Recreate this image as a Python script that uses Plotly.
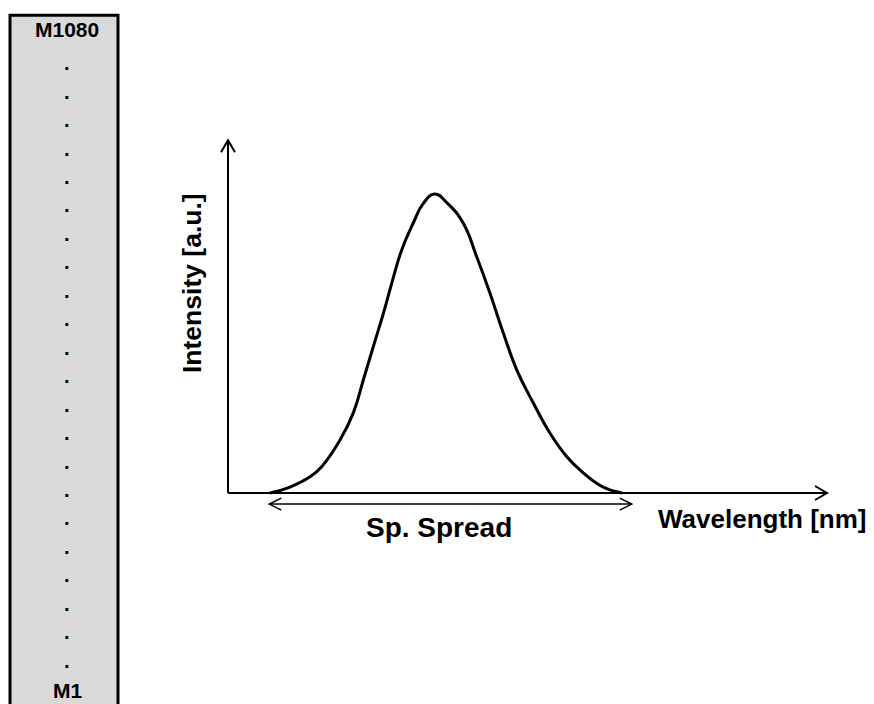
import plotly.graph_objects as go

# Spectrum profile (wavelength in arbitrary units, intensity normalised to peak = 1)
wavelength = [7.01, 10.35, 13.69, 15.64, 18.70, 20.92, 22.59, 24.26, 25.93, 27.33,
              29.00, 30.93, 32.55, 34.47, 36.73, 39.28, 41.52, 43.74, 45.96, 48.20,
              50.97, 53.76, 56.54, 58.76, 62.60, 65.78]
intensity = [0.0, 0.020, 0.054, 0.088, 0.177, 0.268, 0.378, 0.490, 0.600, 0.701,
             0.813, 0.903, 0.967, 1.0, 0.967, 0.902, 0.790, 0.668, 0.535, 0.412,
             0.301, 0.200, 0.122, 0.077, 0.020, 0.0]

# Spectral spread marker (start / end wavelength) and its offset below the axis
spread_start = 6.9
spread_end = 67.4
spread_level = -0.037

# Axis extents (arrow tips)
x_axis_end = 100.0
y_axis_end = 1.18

# Module stack labels
module_first = "M1"
module_last = "M1080"
n_ellipsis_dots = 22

# Text
x_title = "Wavelength [nm]"
y_title = "Intensity [a.u.]"
spread_label = "Sp. Spread"

W, H = 874, 704
FONT = "Liberation Sans, Arial, sans-serif"

fig = go.Figure()

fig.add_trace(go.Scatter(
    x=wavelength, y=intensity, mode="lines",
    line=dict(color="black", width=3, shape="spline", smoothing=1.3),
    hoverinfo="skip", showlegend=False,
))

# Axis lines
fig.add_shape(type="line", x0=0, y0=0, x1=x_axis_end, y1=0,
              line=dict(color="black", width=2))
fig.add_shape(type="line", x0=0, y0=0, x1=0, y1=y_axis_end,
              line=dict(color="black", width=2))

# Open chevron arrowheads (pixel-sized, anchored at the data tips)
def chevron(xa, ya, path, width=2):
    fig.add_shape(type="path", xsizemode="pixel", ysizemode="pixel",
                  xanchor=xa, yanchor=ya, path=path,
                  line=dict(color="black", width=width))

chevron(x_axis_end, 0, "M -12 7 L 0 0 L -12 -7")
chevron(0, y_axis_end, "M -7 -12 L 0 0 L 7 -12")

# Spectral spread double arrow
fig.add_shape(type="line", x0=spread_start, y0=spread_level, x1=spread_end,
              y1=spread_level, line=dict(color="black", width=1.5))
chevron(spread_start, spread_level, "M 12 6 L 0 0 L 12 -6", 1.5)
chevron(spread_end, spread_level, "M -12 6 L 0 0 L -12 -6", 1.5)

# Module column on the left
fig.add_shape(type="rect", xref="paper", yref="paper",
              x0=10 / W, x1=118 / W, y0=-0.02, y1=1 - 15.3 / H,
              fillcolor="#d9d9d9", line=dict(color="black", width=3), layer="below")

def ptext(txt, px, py, size, angle=0):
    fig.add_annotation(text=f"<b>{txt}</b>", xref="paper", yref="paper",
                       x=px / W, y=1 - py / H, xanchor="center", yanchor="middle",
                       showarrow=False, textangle=angle,
                       font=dict(family=FONT, size=size, color="black"))

ptext(module_last, 67, 30, 21)
ptext(module_first, 67, 690, 21)
for i in range(n_ellipsis_dots):
    ptext(".", 67, 70.7 + i * 28.45 - 7.5, 20)

# Axis titles and spread label
ptext(spread_label, 439, 527, 28)
ptext(x_title, 762, 519, 26)
ptext(y_title, 192, 283, 26.5, angle=-90)

# Full-page axes: 0 wavelength at x=228px, 0 intensity at y=493px
px_per_x = 5.99
px_per_y = 299.0
fig.update_xaxes(visible=False, range=[-228 / px_per_x, (W - 228) / px_per_x])
fig.update_yaxes(visible=False, range=[-(H - 493) / px_per_y, 493 / px_per_y])

fig.update_layout(
    width=W, height=H, margin=dict(l=0, r=0, t=0, b=0),
    paper_bgcolor="white", plot_bgcolor="white",
)

fig.write_html("out.html")
